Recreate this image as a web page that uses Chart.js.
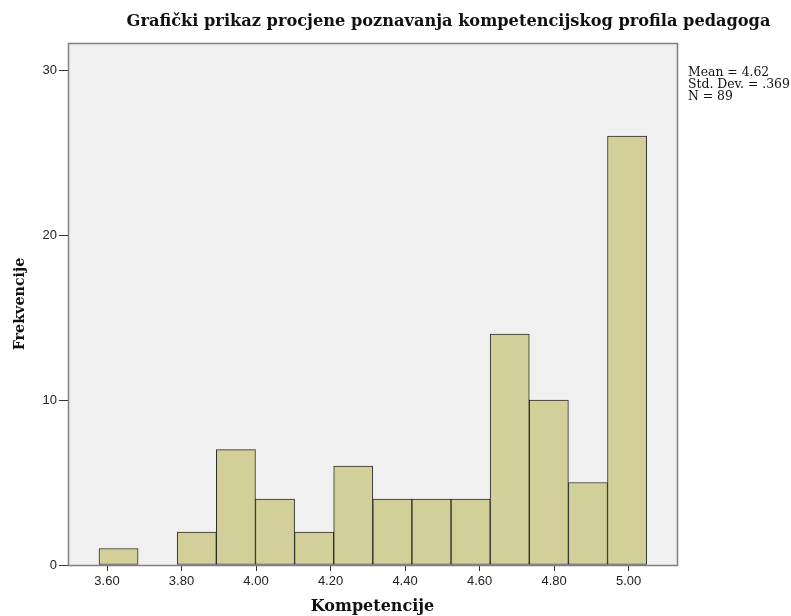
<!DOCTYPE html>
<html>
<head>
<meta charset="utf-8">
<script src="https://cdn.jsdelivr.net/npm/chart.js@4"></script>
<style>
    html, body { margin: 0; padding: 0; background: #FFFFFF; }
    #wrap { width: 791px; height: 616px; position: relative; }
</style>
</head>
<body>
<div id="wrap"><canvas id="histChart" width="791" height="616"></canvas></div>
<script>
// ============================================================
// DATA
// ============================================================
const binCenters = [3.631, 3.736, 3.841, 3.946, 4.051, 4.156, 4.261, 4.366, 4.471, 4.576, 4.681, 4.786, 4.891, 4.996];
const frequencies = [1, 0, 2, 7, 4, 2, 6, 4, 4, 4, 14, 10, 5, 26];
const xTickValues = [3.60, 3.80, 4.00, 4.20, 4.40, 4.60, 4.80, 5.00];
const yTickValues = [0, 10, 20, 30];
const statsLines = ['Mean = 4.62', 'Std. Dev. = .369', 'N = 89'];

const titleText = 'Grafički prikaz procjene poznavanja kompetencijskog profila pedagoga';
const xTitle = 'Kompetencije';
const yTitle = 'Frekvencije';

(function () {
    'use strict';

    const SERIF = "'DejaVu Serif', serif";
    const SANS = "'Liberation Sans', Arial, sans-serif";

    // plot frame + texts drawn by hand
    const framePlugin = {
        id: 'spssFrame',
        beforeDraw(chart) {
            const { ctx, chartArea: a } = chart;
            ctx.save();
            ctx.fillStyle = '#F0F0F0';
            ctx.fillRect(a.left, a.top, a.right - a.left, a.bottom - a.top);
            ctx.restore();
        },
        afterDraw(chart) {
            const { ctx, chartArea: a } = chart;
            ctx.save();
            ctx.strokeStyle = '#808080';
            ctx.lineWidth = 1.5;
            ctx.strokeRect(a.left + 0.5, a.top + 0.5, a.right - a.left, a.bottom - a.top);

            ctx.fillStyle = '#111';
            ctx.textBaseline = 'middle';

            // title
            ctx.font = 'bold 16.2px ' + SERIF;
            ctx.textAlign = 'center';
            ctx.fillText(titleText, 448.5, 22);

            // x title
            ctx.font = 'bold 16px ' + SERIF;
            ctx.fillText(xTitle, (a.left + a.right) / 2, 607);

            // y title
            ctx.save();
            ctx.translate(20, (a.top + a.bottom) / 2);
            ctx.rotate(-Math.PI / 2);
            ctx.font = 'bold 14.3px ' + SERIF;
            ctx.fillText(yTitle, 0, 0);
            ctx.restore();

            // stats box
            ctx.font = '12.4px ' + SERIF;
            ctx.textAlign = 'left';
            statsLines.forEach((line, i) => {
                ctx.fillText(line, 688, 73 + i * 12);
            });
            ctx.restore();
        }
    };

    new Chart(document.getElementById('histChart'), {
        type: 'bar',
        data: {
            datasets: [{
                data: binCenters.map((x, i) => ({ x: x, y: frequencies[i] })),
                backgroundColor: '#D3CF98',
                borderColor: '#2B2B2B',
                borderWidth: 1,
                borderSkipped: false,
                barPercentage: 1,
                categoryPercentage: 1
            }]
        },
        options: {
            responsive: false,
            animation: false,
            layout: { padding: { left: 0, top: 43, right: 114, bottom: 0 } },
            plugins: {
                legend: { display: false },
                tooltip: { enabled: false }
            },
            scales: {
                x: {
                    type: 'linear',
                    offset: false,
                    min: 3.4953,
                    max: 5.130,
                    afterBuildTicks: (scale) => { scale.ticks = xTickValues.map(v => ({ value: v })); },
                    afterFit: (scale) => { scale.height = 51; },
                    grid: { offset: false, drawOnChartArea: false, drawTicks: true, tickLength: 6, color: '#333' },
                    border: { display: true, color: '#333', width: 1 },
                    ticks: {
                        autoSkip: false,
                        maxRotation: 0,
                        padding: 3,
                        color: '#222',
                        font: { family: SANS, size: 13 },
                        callback: (v) => Number(v).toFixed(2)
                    }
                },
                y: {
                    min: 0,
                    max: 31.65,
                    afterBuildTicks: (scale) => { scale.ticks = yTickValues.map(v => ({ value: v })); },
                    afterFit: (scale) => { scale.width = 68; },
                    grid: { drawOnChartArea: false, drawTicks: true, tickLength: 9, color: '#333' },
                    border: { display: true, color: '#333', width: 1 },
                    ticks: {
                        padding: 2,
                        color: '#222',
                        font: { family: SANS, size: 13 }
                    }
                }
            }
        },
        plugins: [framePlugin]
    });
})();
</script>
</body>
</html>
